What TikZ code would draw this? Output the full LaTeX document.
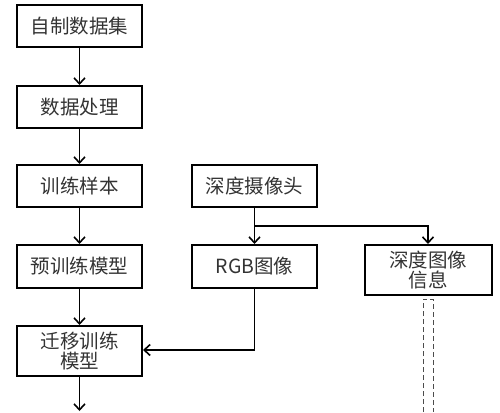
\documentclass[tikz,border=0pt]{standalone}
\usepackage{fontspec}
\setmainfont{Noto Sans CJK SC}
\usetikzlibrary{arrows.meta}
\begin{document}
\begin{tikzpicture}[x=1pt,y=-1pt,
  box/.style={draw=black,line width=2pt,inner sep=0pt,minimum width=125pt,minimum height=42pt,align=center,font=\fontsize{19.5}{22}\selectfont,text=black!80},
  conn/.style={draw=black,line width=1.6pt},
  arr/.style={conn,-{Straight Barb[length=6pt,width=11pt,line width=1.6pt]}}]
\useasboundingbox (0,0) rectangle (500,412);
\node[box] (a) at (79.5,26) {自制数据集};
\node[box] (b) at (79.5,107) {数据处理};
\node[box] (c) at (79.5,186) {训练样本};
\node[box,minimum height=43pt] (d) at (79.5,266.5) {预训练模型};
\node[box,minimum height=50pt] (e) at (79.5,351) {迁移训练\\[-2pt]模型};
\node[box] (cam) at (254.5,186) {深度摄像头};
\node[box,minimum height=43pt] (rgb) at (254.5,266.5) {RGB图像};
\node[box,minimum width=127pt,minimum height=50pt] (dep) at (428,270) {深度图像\\[-2pt]信息};
\coordinate (j) at (254.5,226);
\coordinate (out) at (79.5,411);
\coordinate (r) at (254.5,350);
\draw[arr] (a) -- (b);
\draw[arr] (b) -- (c);
\draw[arr] (c) -- (d);
\draw[arr] (d) -- (e);
\draw[arr] (e) -- (out);
\draw[arr] (cam) -- (rgb);
\draw[arr] (j) -| (dep.north);
\draw[arr] (rgb.south) -- (r) -- (e.east |- r);
\draw[black!70,line width=0.9pt,dash pattern=on 5pt off 3pt] (423,412) -- (423,299) -- (433,299) -- (433,412);
\end{tikzpicture}
\end{document}
